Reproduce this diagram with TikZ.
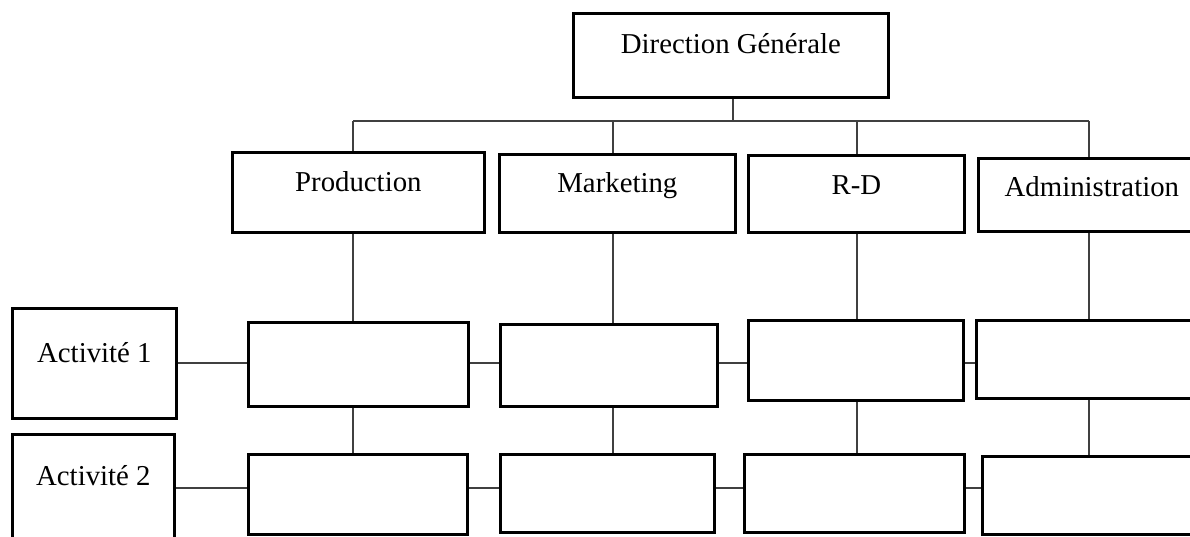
\documentclass[tikz,border=0pt]{standalone}
\usepackage{fontspec}
\setmainfont{Liberation Serif}
\begin{document}
\begin{tikzpicture}[x=1pt,y=-1pt,
  box/.style={draw=black, line width=2.7pt, inner sep=0pt, anchor=north west,
    font=\fontsize{28.8}{34}\selectfont},
  conn/.style={draw=black!75, line width=1.3pt}]
\useasboundingbox (0,0) rectangle (1190,537);
\clip (0,0) rectangle (1190,537);

% head of the organisation
\node[box, minimum width=315pt, text height=40pt, text depth=44pt] (dg) at (572,12) {Direction Générale};

% departments
\node[box, minimum width=252pt, text height=39pt, text depth=41pt] (prod) at (231,151) {Production};
\node[box, minimum width=236pt, text height=38pt, text depth=40pt] (mkt)  at (498,153) {Marketing};
\node[box, minimum width=216pt, text height=39pt, text depth=38pt] (rd)   at (747,154) {R-D};
\node[box, minimum width=227pt, text height=38pt, text depth=35pt] (adm)  at (977,157) {Administration};

% activities
\node[box, minimum width=164pt, text height=54pt, text depth=56pt] (act1) at (11,307) {Activité 1};
\node[box, minimum width=162pt, text height=51pt, text depth=76pt] (act2) at (11,433) {Activité 2};

% cells of the matrix
\node[box, minimum width=220pt, minimum height=84pt] (p1) at (247,321) {};
\node[box, minimum width=219pt, minimum height=80pt] (p2) at (247,453) {};
\node[box, minimum width=217pt, minimum height=82pt] (m1) at (499,323) {};
\node[box, minimum width=214pt, minimum height=78pt] (m2) at (499,453) {};
\node[box, minimum width=215pt, minimum height=80pt] (r1) at (747,319) {};
\node[box, minimum width=220pt, minimum height=78pt] (r2) at (743,453) {};
\node[box, minimum width=230pt, minimum height=78pt] (a1) at (975,319) {};
\node[box, minimum width=230pt, minimum height=78pt] (a2) at (981,455) {};

% column and row guides
\coordinate (bus) at (733,121);
\coordinate (cP) at (353,121);
\coordinate (cM) at (613,121);
\coordinate (cR) at (857,121);
\coordinate (cA) at (1089,121);
\coordinate (row1) at (0,363);
\coordinate (row2) at (0,488);

% hierarchy
\draw[conn] (dg.south -| bus) -- (bus);
\draw[conn] (cP) -- (cA);
\draw[conn] (cP) -- (cP |- prod.north);
\draw[conn] (cM) -- (cM |- mkt.north);
\draw[conn] (cR) -- (cR |- rd.north);
\draw[conn] (cA) -- (cA |- adm.north);

% department columns
\draw[conn] (prod.south -| cP) -- (cP |- p1.north);
\draw[conn] (p1.south -| cP) -- (cP |- p2.north);
\draw[conn] (mkt.south -| cM) -- (cM |- m1.north);
\draw[conn] (m1.south -| cM) -- (cM |- m2.north);
\draw[conn] (rd.south -| cR) -- (cR |- r1.north);
\draw[conn] (r1.south -| cR) -- (cR |- r2.north);
\draw[conn] (adm.south -| cA) -- (cA |- a1.north);
\draw[conn] (a1.south -| cA) -- (cA |- a2.north);

% activity rows
\draw[conn] (act1.east |- row1) -- (p1.west |- row1);
\draw[conn] (p1.east |- row1) -- (m1.west |- row1);
\draw[conn] (m1.east |- row1) -- (r1.west |- row1);
\draw[conn] (r1.east |- row1) -- (a1.west |- row1);
\draw[conn] (act2.east |- row2) -- (p2.west |- row2);
\draw[conn] (p2.east |- row2) -- (m2.west |- row2);
\draw[conn] (m2.east |- row2) -- (r2.west |- row2);
\draw[conn] (r2.east |- row2) -- (a2.west |- row2);
\end{tikzpicture}
\end{document}
